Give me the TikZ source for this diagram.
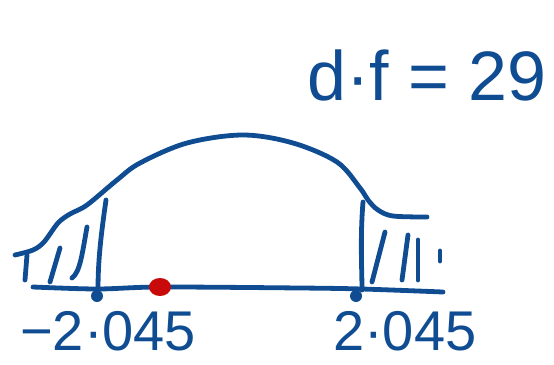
\documentclass[tikz,border=0pt]{standalone}
\usepackage{fontspec}
\setmainfont{Liberation Sans}
\definecolor{ink}{HTML}{0F4C92}
\definecolor{redink}{HTML}{C80A0A}
\begin{document}
\begin{tikzpicture}[x=1pt,y=-1pt,
  pen/.style={draw=ink,line width=4.8pt,line cap=round,line join=round},
  hand/.style={text=ink,inner sep=0pt,font=\fontsize{56}{56}\selectfont}]
\useasboundingbox (0,0) rectangle (554,364);
% curve
\draw[pen] plot[smooth,tension=0.55] coordinates {(15,255) (33,250) (44,242) (58,223) (70,214) (87,205) (117,180) (140,163) (187,143) (243,135) (293,143) (337,162) (360,188) (368,200) (378,210) (393,216) (427,217)};
% baseline
\draw[pen] plot[smooth,tension=0.5] coordinates {(33,287) (97,289) (160,287) (300,288) (362,289) (443,292)};
% left hatches
\draw[pen] (27,255) -- (25,280);
\draw[pen] (60,248) -- (50,282);
\draw[pen] (87,227) .. controls (82,255) and (80,272) .. (72,278);
\draw[pen] (106,200) .. controls (101,235) and (98,260) .. (98,290);
% right hatches
\draw[pen] (363,202) .. controls (360,240) and (362,270) .. (362,290);
\draw[pen] (385,232) -- (372,282);
\draw[pen] (408,235) -- (402,280);
\draw[pen] (418,240) -- (418,280);
\draw[pen] (440,251) -- (440,261);
% dots
\fill[ink] (97,296) circle[radius=6];
\fill[ink] (356,296) circle[radius=6];
\fill[redink] (160,287) ellipse[x radius=11,y radius=9];
% labels
\node[hand,anchor=base west] (lneg) at (20,350) {−2·045};
\node[hand,anchor=base west] (lpos) at (333,350) {2·045};
\node[hand,anchor=base west,font=\fontsize{70}{70}\selectfont] (df) at (307,100) {d·f = 29};
\end{tikzpicture}
\end{document}
